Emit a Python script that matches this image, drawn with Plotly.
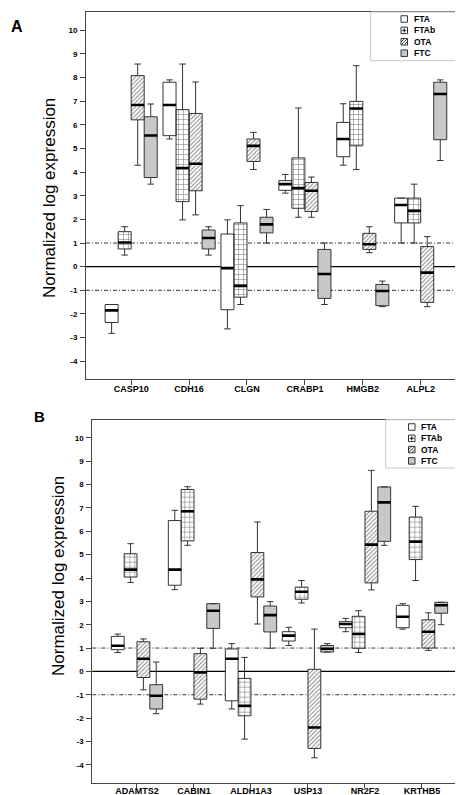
import plotly.graph_objects as go

W, H = 463, 795

groups = ["FTA", "FTAb", "OTA", "FTC"]
genes_a = ["CASP10", "CDH16", "CLGN", "CRABP1", "HMGB2", "ALPL2"]
genes_b = ["ADAMTS2", "CABIN1", "ALDH1A3", "USP13", "NR2F2", "KRTHB5"]
y_ticks = list(range(-4, 11))
y_ticktext = [str(v) for v in y_ticks]

# Panel A statistics, rows = groups (FTA, FTAb, OTA, FTC), columns = genes_a
a_low = [[-2.82, 5.40, -2.63, 3.11, 4.29, 1.00],
         [0.49, 1.98, -1.60, 2.09, 4.11, 1.00],
         [4.29, 2.19, 4.11, 2.09, 0.59, -1.69],
         [3.49, 0.49, 1.00, -1.60, -1.69, 4.49]]
a_q1 = [[-2.36, 5.54, -1.82, 3.23, 4.65, 1.85],
        [0.75, 2.75, -1.29, 2.47, 5.11, 1.85],
        [6.21, 3.21, 4.45, 2.33, 0.73, -1.51],
        [3.77, 0.75, 1.43, -1.34, -1.65, 5.37]]
a_med = [[-1.85, 6.84, -0.06, 3.49, 5.40, 2.61],
         [1.02, 4.17, -0.81, 3.32, 6.69, 2.36],
         [6.84, 4.35, 5.11, 3.21, 0.95, -0.25],
         [5.55, 1.21, 1.79, -0.31, -1.03, 7.30]]
a_q3 = [[-1.60, 7.80, 1.38, 3.64, 6.10, 2.90],
        [1.48, 6.64, 1.85, 4.60, 6.99, 2.90],
        [8.08, 6.48, 5.40, 3.56, 1.41, 0.85],
        [6.34, 1.55, 2.09, 0.73, -0.75, 7.80]]
a_high = [[-1.60, 7.90, 1.98, 3.90, 6.89, 2.90],
          [1.69, 8.57, 2.58, 6.71, 8.50, 3.49],
          [8.57, 7.81, 5.68, 3.79, 1.69, 1.27],
          [6.88, 1.69, 2.42, 1.00, -0.61, 7.90]]

# Panel B statistics, rows = groups, columns = genes_b
b_low = [[0.81, 3.50, -1.61, 1.11, 1.70, 1.81],
         [3.81, 5.40, -2.90, 2.93, 0.81, 3.89],
         [-0.79, -1.40, 2.03, -3.70, 3.49, 0.90],
         [-1.81, 0.99, 0.99, 0.83, 5.40, 2.00]]
b_q1 = [[0.93, 3.69, -1.26, 1.30, 1.87, 1.87],
        [4.04, 5.59, -1.90, 3.09, 0.99, 4.79],
        [-0.26, -1.19, 3.19, -3.30, 3.79, 1.00],
        [-1.61, 1.84, 1.69, 0.83, 5.57, 2.49]]
b_med = [[1.10, 4.36, 0.54, 1.53, 2.03, 2.34],
         [4.36, 6.86, -1.47, 3.41, 1.60, 5.56],
         [0.54, -0.04, 3.94, -2.40, 5.43, 1.70],
         [-1.04, 2.60, 2.41, 0.97, 7.24, 2.83]]
b_q3 = [[1.50, 6.46, 0.96, 1.70, 2.13, 2.83],
        [5.04, 7.79, -0.30, 3.61, 2.36, 6.61],
        [1.27, 0.76, 5.09, 0.09, 6.86, 2.21],
        [-0.57, 2.90, 2.80, 1.11, 7.90, 2.96]]
b_high = [[1.60, 6.90, 1.19, 1.89, 2.27, 2.90],
          [5.47, 7.91, 0.60, 3.89, 2.60, 7.07],
          [1.39, 0.99, 6.40, 1.81, 8.61, 2.51],
          [0.40, 2.90, 2.99, 1.19, 7.90, 2.96]]

FONT = "Liberation Sans, Arial, sans-serif"
GRAY = "#c8c8c8"
EDGE = "#333333"
fills = {"FTA": "white", "FTAb": "white", "OTA": "white", "FTC": GRAY}
patterns = {
    "FTA": dict(shape=""),
    "FTAb": dict(shape="+", size=5, solidity=0.22, fgcolor="black", bgcolor="white"),
    "OTA": dict(shape="/", size=3, solidity=0.3, fgcolor="black", bgcolor="white"),
    "FTC": dict(shape=""),
}
offsets = [-0.3375, -0.1125, 0.1125, 0.3375]
BW = 0.225

fig = go.Figure()


def add_panel(genes, low, q1, med, q3, high, xa, ya):
    for gi, g in enumerate(groups):
        xs = [i + offsets[gi] for i in range(len(genes))]
        fig.add_trace(go.Bar(
            x=xs, y=[b - a for a, b in zip(q1[gi], q3[gi])], base=q1[gi], width=BW,
            marker=dict(color=fills[g], pattern=patterns[g], line=dict(width=0)),
            xaxis=xa, yaxis=ya, showlegend=False, hoverinfo="skip", name=g))
        fig.add_trace(go.Box(
            x=xs, q1=q1[gi], median=med[gi], q3=q3[gi],
            lowerfence=low[gi], upperfence=high[gi], width=BW,
            fillcolor="rgba(0,0,0,0)", line=dict(color=EDGE, width=1),
            whiskerwidth=0.5, boxpoints=False, xaxis=xa, yaxis=ya,
            showlegend=False, hoverinfo="skip", name=g))
        fig.add_trace(go.Box(
            x=xs, q1=med[gi], median=med[gi], q3=med[gi],
            lowerfence=med[gi], upperfence=med[gi], width=BW,
            fillcolor="rgba(0,0,0,0)", line=dict(color="black", width=2.6),
            whiskerwidth=0, boxpoints=False, xaxis=xa, yaxis=ya,
            showlegend=False, hoverinfo="skip", name=g))


add_panel(genes_a, a_low, a_q1, a_med, a_q3, a_high, "x", "y")
add_panel(genes_b, b_low, b_q1, b_med, b_q3, b_high, "x2", "y2")


def px_x(x):
    return x / W


def px_y(y):
    return 1 - y / H


axis_common = dict(showline=True, linecolor="#444", linewidth=1, mirror=True,
                   ticks="outside", tickcolor="#444", showgrid=False,
                   zeroline=False)

fig.update_layout(
    width=W, height=H, autosize=False,
    margin=dict(l=0, r=0, t=0, b=0),
    paper_bgcolor="white", plot_bgcolor="white",
    barmode="overlay", boxmode="overlay", showlegend=False,
    font=dict(family=FONT, color="black"),
    xaxis=dict(domain=[px_x(78), px_x(457.3)], range=[-0.78, 5.77], ticklen=5,
               tickvals=list(range(len(genes_a))), ticktext=genes_a, ticklabelstandoff=-4,
               tickfont=dict(size=9, weight="bold", family=FONT), anchor="y", **axis_common),
    yaxis=dict(domain=[px_y(371), px_y(4)], range=[-4.75, 10.77], ticklen=5,
               tickvals=y_ticks, ticktext=y_ticktext, ticklabelstandoff=1,
               tickfont=dict(size=8, weight="bold", family=FONT), anchor="x", **axis_common),
    xaxis2=dict(domain=[px_x(84.3), px_x(457.3)], range=[-0.784, 5.76], ticklen=4,
                tickvals=list(range(len(genes_b))), ticktext=genes_b, ticklabelstandoff=-5,
                tickfont=dict(size=9, weight="bold", family=FONT), anchor="y2", **axis_common),
    yaxis2=dict(domain=[px_y(775), px_y(411.7)], range=[-4.78, 10.78], ticklen=5,
                tickvals=y_ticks, ticktext=y_ticktext, ticklabelstandoff=1,
                tickfont=dict(size=8, weight="bold", family=FONT), anchor="x2", **axis_common),
)

# reference lines at 0 and +/-1
for xr, yr in (("x domain", "y"), ("x2 domain", "y2")):
    fig.add_shape(type="line", xref=xr, yref=yr, x0=0, x1=1, y0=0, y1=0,
                  line=dict(color="black", width=1.2), layer="below")
    for v in (1, -1):
        fig.add_shape(type="line", xref=xr, yref=yr, x0=0, x1=1, y0=v, y1=v,
                      line=dict(color="#333", width=1, dash="4px,2px,1px,2px"), layer="below")


def add_legend(left, top, right, bottom, icon_x, text_x, row_ys):
    fig.add_shape(type="rect", xref="paper", yref="paper",
                  x0=px_x(left), x1=px_x(right), y0=px_y(bottom), y1=px_y(top),
                  line=dict(color="#c8c8c8", width=1), fillcolor="white")
    s = 6.5
    for g, yc in zip(groups, row_ys):
        x0, x1 = icon_x, icon_x + s
        ytop, ybot = yc - s / 2, yc + s / 2
        fig.add_shape(type="rect", xref="paper", yref="paper",
                      x0=px_x(x0), x1=px_x(x1), y0=px_y(ybot), y1=px_y(ytop),
                      line=dict(color=EDGE, width=1), fillcolor=fills[g])
        if g == "FTAb":
            xm, ym = (x0 + x1) / 2, yc
            fig.add_shape(type="line", xref="paper", yref="paper",
                          x0=px_x(xm), x1=px_x(xm), y0=px_y(ym - 2), y1=px_y(ym + 2),
                          line=dict(color="black", width=1))
            fig.add_shape(type="line", xref="paper", yref="paper",
                          x0=px_x(xm - 2), x1=px_x(xm + 2), y0=px_y(ym), y1=px_y(ym),
                          line=dict(color="black", width=1))
        if g == "OTA":
            fig.add_shape(type="line", xref="paper", yref="paper",
                          x0=px_x(x0 + 0.5), x1=px_x(x1 - 0.5), y0=px_y(ybot - 0.5), y1=px_y(ytop + 0.5),
                          line=dict(color="black", width=0.8))
            fig.add_shape(type="line", xref="paper", yref="paper",
                          x0=px_x(x0 + 0.5), x1=px_x(x0 + 3), y0=px_y(ytop + 3), y1=px_y(ytop + 0.5),
                          line=dict(color="black", width=0.8))
            fig.add_shape(type="line", xref="paper", yref="paper",
                          x0=px_x(x1 - 3), x1=px_x(x1 - 0.5), y0=px_y(ybot - 0.5), y1=px_y(ybot - 3),
                          line=dict(color="black", width=0.8))
        fig.add_annotation(xref="paper", yref="paper", x=px_x(text_x), y=px_y(yc),
                           text=g, showarrow=False, xanchor="left", yanchor="middle",
                           font=dict(size=8.5, weight="bold", family=FONT, color="black"))


add_legend(362.7, 4, 455.7, 52.7, 393.0, 404.0, [11, 22.4, 33.8, 45.2])
add_legend(377.7, 411.7, 454.0, 460.0, 400.5, 410.5, [419, 430.3, 441.6, 452.9])

# axis titles and panel letters
for xc, yc in ((42, 190), (50, 568)):
    fig.add_annotation(xref="paper", yref="paper", x=px_x(xc), y=px_y(yc),
                       text="Normalized log expression", textangle=-90, showarrow=False,
                       xanchor="center", yanchor="middle",
                       font=dict(size=17, family=FONT, color="black"))
fig.add_annotation(xref="paper", yref="paper", x=px_x(9), y=px_y(19), text="A",
                   showarrow=False, xanchor="center", yanchor="middle",
                   font=dict(size=16, weight="bold", family=FONT, color="black"))
fig.add_annotation(xref="paper", yref="paper", x=px_x(31), y=px_y(408), text="B",
                   showarrow=False, xanchor="center", yanchor="middle",
                   font=dict(size=15, weight="bold", family=FONT, color="black"))

fig.write_html("out.html")
